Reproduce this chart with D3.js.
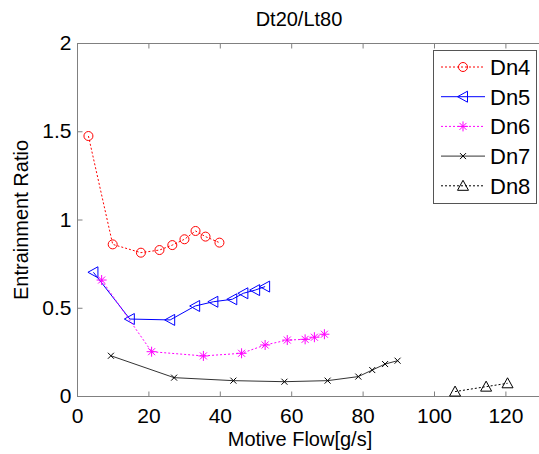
<!DOCTYPE html>
<html><head><meta charset="utf-8">
<script src="https://cdn.jsdelivr.net/npm/d3@7"></script>
<style>
html,body{margin:0;padding:0;background:#fff;}
svg{display:block;font-family:Arial,"Liberation Sans",sans-serif;}
</style></head>
<body><svg id="c" width="539" height="454"></svg>
<script>
const titleText = "Dt20/Lt80";
const xLabel = "Motive Flow[g/s]";
const yLabel = "Entrainment Ratio";
const xTicks = [0,20,40,60,80,100,120];
const yTicks = [0,0.5,1,1.5,2];
const yTickLabels = ["0","0.5","1","1.5","2"];
const seriesNames = ["Dn4","Dn5","Dn6","Dn7","Dn8"];
const seriesColors = ["#ff0000","#0000ff","#ff00ff","#000000","#000000"];
const seriesDash = ["2,2", null, "2,2", null, "2,2"];
const seriesMarkers = ["circle","triLeft","star","cross","triUp"];

const dn4X = [3.2,10.0,17.9,23.1,26.7,30.1,33.2,36.0,39.9];
const dn4Y = [1.473,0.859,0.812,0.827,0.855,0.888,0.935,0.903,0.869];
const dn5X = [4.6,14.8,26.1,33.1,38.2,43.5,46.6,49.9,52.7];
const dn5Y = [0.701,0.436,0.431,0.51,0.534,0.548,0.582,0.60,0.62];
const dn6X = [6.9,20.9,35.4,46.1,52.7,58.9,63.9,66.5,69.3];
const dn6Y = [0.657,0.251,0.227,0.242,0.289,0.317,0.321,0.333,0.35];
const dn7X = [9.5,27.2,43.8,58.1,70.2,78.8,82.7,86.3,89.8];
const dn7Y = [0.228,0.104,0.087,0.081,0.087,0.11,0.147,0.181,0.2];
const dn8X = [105.9,114.6,120.6];
const dn8Y = [0.025,0.053,0.072];

const seriesX = [dn4X,dn5X,dn6X,dn7X,dn8X];
const seriesY = [dn4Y,dn5Y,dn6Y,dn7Y,dn8Y];

const svg = d3.select("#c");
const x = d3.scaleLinear().domain([0,130]).range([77,541.1]);
const y = d3.scaleLinear().domain([0,2]).range([396,43]);
const axisColor = "#808080";

const g = svg.append("g");
g.append("line").attr("x1",x(0)).attr("x2",x(130)).attr("y1",y(0)+0.5).attr("y2",y(0)+0.5).attr("stroke",axisColor);
g.append("line").attr("x1",x(0)).attr("x2",x(130)).attr("y1",y(2)+0.5).attr("y2",y(2)+0.5).attr("stroke",axisColor);
g.append("line").attr("x1",x(0)+0.5).attr("x2",x(0)+0.5).attr("y1",y(0)).attr("y2",y(2)).attr("stroke",axisColor);

const xAxisB = d3.axisBottom(x).tickValues(xTicks).tickSize(-5).tickPadding(12).tickFormat(d3.format("d"));
const gxb = svg.append("g").attr("transform",`translate(0,${y(0)+0.5})`).call(xAxisB);
gxb.select(".domain").remove();
gxb.selectAll(".tick line").attr("stroke",axisColor);
gxb.selectAll(".tick text").attr("font-size",21).attr("fill","#000").attr("font-family","Arial,'Liberation Sans',sans-serif");
const xAxisT = d3.axisTop(x).tickValues(xTicks).tickSize(-5).tickFormat("");
const gxt = svg.append("g").attr("transform",`translate(0,${y(2)+0.5})`).call(xAxisT);
gxt.select(".domain").remove();
gxt.selectAll(".tick line").attr("stroke",axisColor);

const yAxisL = d3.axisLeft(y).tickValues(yTicks).tickSize(-5).tickPadding(6).tickFormat((d,i)=>yTickLabels[i]);
const gyl = svg.append("g").attr("transform",`translate(${x(0)+0.5},0)`).call(yAxisL);
gyl.select(".domain").remove();
gyl.selectAll(".tick line").attr("stroke",axisColor);
gyl.selectAll(".tick text").attr("font-size",21).attr("fill","#000").attr("font-family","Arial,'Liberation Sans',sans-serif");

svg.append("text").attr("x",299).attr("y",26).attr("text-anchor","middle").attr("font-size",20).text(titleText);
svg.append("text").attr("x",300).attr("y",446).attr("text-anchor","middle").attr("font-size",20).text(xLabel);
svg.append("text").attr("transform","translate(28,220) rotate(-90)").attr("text-anchor","middle").attr("font-size",20).text(yLabel);

function drawMarker(sel, type, color){
  if(type==="circle"){
    sel.append("circle").attr("r",4.5).attr("fill","none").attr("stroke",color).attr("stroke-width",1);
  } else if(type==="triLeft"){
    sel.append("path").attr("d","M-5.5,0L4.5,-5.5L4.5,5.5Z").attr("fill","none").attr("stroke",color);
  } else if(type==="triUp"){
    sel.append("path").attr("d","M0,-5.5L5.5,4.5L-5.5,4.5Z").attr("fill","none").attr("stroke",color);
  } else if(type==="star"){
    sel.append("path").attr("d","M-5,0L5,0M0,-5L0,5M-3.5,-3.5L3.5,3.5M-3.5,3.5L3.5,-3.5").attr("fill","none").attr("stroke",color);
  } else if(type==="cross"){
    sel.append("path").attr("d","M-3,-3L3,3M-3,3L3,-3").attr("fill","none").attr("stroke",color);
  }
}

const line = d3.line().x(d=>x(d[0])).y(d=>y(d[1]));
seriesNames.forEach((name,i)=>{
  const pts = seriesX[i].map((v,j)=>[v,seriesY[i][j]]);
  const p = svg.append("path").datum(pts).attr("d",line).attr("fill","none")
    .attr("stroke",seriesColors[i]).attr("stroke-width",1);
  if(seriesDash[i]) p.attr("stroke-dasharray",seriesDash[i]);
  if(i===3) p.attr("stroke","#333");
  pts.forEach(pt=>{
    const m = svg.append("g").attr("transform",`translate(${x(pt[0])},${y(pt[1])})`);
    drawMarker(m, seriesMarkers[i], seriesColors[i]);
  });
});

const lg = svg.append("g");
lg.append("rect").attr("x",433.5).attr("y",50.5).attr("width",103).attr("height",153).attr("fill","#fff").attr("stroke","#555");
seriesNames.forEach((name,i)=>{
  const ly = 67 + i*29.7;
  const l = lg.append("line").attr("x1",441).attr("x2",485).attr("y1",ly).attr("y2",ly)
    .attr("stroke",i===3?"#333":seriesColors[i]).attr("stroke-width",1);
  if(seriesDash[i]) l.attr("stroke-dasharray",seriesDash[i]);
  const m = lg.append("g").attr("transform",`translate(463,${ly})`);
  drawMarker(m, seriesMarkers[i], seriesColors[i]);
  lg.append("text").attr("x",490).attr("y",ly+8).attr("font-size",22).text(name);
});
</script></body></html>
